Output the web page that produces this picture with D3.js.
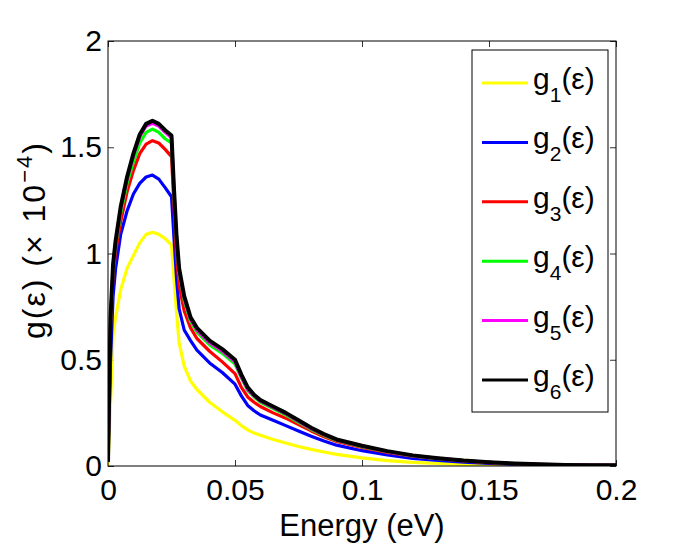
<!DOCTYPE html>
<html lang="en">
<head>
<meta charset="utf-8">
<script src="https://cdn.jsdelivr.net/npm/d3@7"></script>
<style>
  body { margin: 0; background: #fff; }
  text { font-family: "Liberation Sans", Arial, sans-serif; fill: #000; }
</style>
</head>
<body>
<div id="chart"></div>
<script>
// energy grid (eV) shared by all curves
const energy = [0, 0.001, 0.002, 0.003, 0.005, 0.0075, 0.01, 0.0125, 0.015, 0.0175, 0.02, 0.0225,
  0.025, 0.026, 0.027, 0.028, 0.03, 0.0325, 0.035, 0.04, 0.045, 0.05, 0.0525, 0.055, 0.0575, 0.06,
  0.065, 0.07, 0.075, 0.08, 0.085, 0.09, 0.1, 0.11, 0.12, 0.13, 0.14, 0.15, 0.16, 0.17, 0.18, 0.19, 0.2]

// g(eps) in units of 1e-4
const g1 = [0.0, 0.30, 0.62, 0.70, 0.83, 0.93, 0.99, 1.05, 1.09, 1.10, 1.09, 1.07,
  1.04, 0.88, 0.72, 0.58, 0.47, 0.40, 0.36, 0.30, 0.255, 0.215, 0.19, 0.17, 0.155, 0.145,
  0.125, 0.108, 0.092, 0.078, 0.066, 0.055, 0.038, 0.025, 0.017, 0.012, 0.008, 0.006, 0.004, 0.003, 0.002, 0.002, 0.001]
const g2 = [0.02, 0.50, 0.80, 0.93, 1.09, 1.20, 1.28, 1.33, 1.36, 1.369, 1.35, 1.31,
  1.267, 1.07, 0.88, 0.74, 0.64, 0.59, 0.545, 0.485, 0.44, 0.385, 0.33, 0.285, 0.26, 0.24,
  0.215, 0.19, 0.165, 0.14, 0.118, 0.098, 0.072, 0.052, 0.036, 0.026, 0.018, 0.012, 0.008, 0.006, 0.004, 0.003, 0.002]
const g3 = [0.02, 0.66, 0.90, 1.01, 1.15, 1.29, 1.39, 1.47, 1.515, 1.531, 1.52, 1.49,
  1.456, 1.22, 0.98, 0.85, 0.73, 0.65, 0.60, 0.54, 0.49, 0.435, 0.37, 0.325, 0.30, 0.28,
  0.25, 0.225, 0.195, 0.165, 0.138, 0.115, 0.087, 0.064, 0.046, 0.034, 0.024, 0.016, 0.011, 0.007, 0.005, 0.004, 0.003]
const g4 = [0.02, 0.68, 0.93, 1.04, 1.19, 1.33, 1.43, 1.52, 1.57, 1.585, 1.57, 1.54,
  1.52, 1.27, 1.05, 0.91, 0.78, 0.68, 0.63, 0.57, 0.53, 0.48, 0.415, 0.355, 0.325, 0.30,
  0.27, 0.24, 0.205, 0.172, 0.144, 0.12, 0.091, 0.067, 0.048, 0.035, 0.025, 0.017, 0.011, 0.007, 0.005, 0.004, 0.003]
const g5 = [0.02, 0.69, 0.94, 1.05, 1.21, 1.35, 1.46, 1.55, 1.60, 1.613, 1.60, 1.57,
  1.545, 1.29, 1.07, 0.92, 0.79, 0.69, 0.64, 0.58, 0.54, 0.49, 0.42, 0.36, 0.33, 0.305,
  0.275, 0.245, 0.21, 0.175, 0.147, 0.122, 0.093, 0.068, 0.049, 0.036, 0.025, 0.017, 0.011, 0.008, 0.005, 0.004, 0.003]
const g6 = [0.02, 0.70, 0.95, 1.06, 1.22, 1.36, 1.47, 1.56, 1.61, 1.625, 1.61, 1.58,
  1.555, 1.30, 1.08, 0.93, 0.80, 0.70, 0.65, 0.59, 0.55, 0.50, 0.43, 0.37, 0.335, 0.31,
  0.28, 0.25, 0.215, 0.18, 0.15, 0.125, 0.095, 0.07, 0.05, 0.037, 0.026, 0.018, 0.012, 0.008, 0.005, 0.004, 0.003]

const seriesNames = ['1', '2', '3', '4', '5', '6']
const seriesValues = [g1, g2, g3, g4, g5, g6]
const seriesColors = ['#ffff00', '#0000ff', '#ff0000', '#00ff00', '#ff00ff', '#000000']

const xTicks = [0, 0.05, 0.1, 0.15, 0.2]
const xTickLabels = ['0', '0.05', '0.1', '0.15', '0.2']
const yTicks = [0, 0.5, 1, 1.5, 2]
const yTickLabels = ['0', '0.5', '1', '1.5', '2']

const W = 681, H = 545
const plotL = 108, plotR = 616, plotT = 41, plotB = 466
const fontSize = 30

const svg = d3.select('#chart').append('svg')
  .attr('width', W).attr('height', H)

svg.append('rect').attr('width', W).attr('height', H).attr('fill', '#fff')

const x = d3.scaleLinear().domain([0, 0.2]).range([plotL, plotR])
const y = d3.scaleLinear().domain([0, 2]).range([plotB, plotT])

svg.append('clipPath').attr('id', 'plotclip')
  .append('rect')
  .attr('x', plotL).attr('y', plotT - 2)
  .attr('width', plotR - plotL).attr('height', plotB - plotT + 2)

// ticks (inward, on all four sides)
function styleAxis(g) {
  g.select('.domain').remove()
  g.selectAll('.tick line').attr('stroke', '#333')
  g.selectAll('.tick text')
    .style('font-family', '"Liberation Sans", Arial, sans-serif')
    .style('font-size', fontSize + 'px')
    .attr('fill', '#000')
}

svg.append('g')
  .attr('transform', 'translate(0,' + plotB + ')')
  .call(d3.axisBottom(x).tickValues(xTicks).tickSize(-6).tickPadding(13)
    .tickFormat(function(d, i) { return xTickLabels[i] }))
  .call(styleAxis)

svg.append('g')
  .attr('transform', 'translate(0,' + plotT + ')')
  .call(d3.axisTop(x).tickValues(xTicks).tickSize(-6).tickFormat(''))
  .call(styleAxis)

svg.append('g')
  .attr('transform', 'translate(' + plotL + ',0)')
  .call(d3.axisLeft(y).tickValues(yTicks).tickSize(-6).tickPadding(6)
    .tickFormat(function(d, i) { return yTickLabels[i] }))
  .call(styleAxis)

svg.append('g')
  .attr('transform', 'translate(' + plotR + ',0)')
  .call(d3.axisRight(y).tickValues(yTicks).tickSize(-6).tickFormat(''))
  .call(styleAxis)

// curves
const line = d3.line()
  .x(function(d) { return x(d[0]) })
  .y(function(d) { return y(d[1]) })

svg.append('g').attr('clip-path', 'url(#plotclip)')
  .selectAll('path')
  .data(seriesValues)
  .enter()
  .append('path')
  .attr('d', function(vals) { return line(energy.map(function(e, i) { return [e, vals[i]] })) })
  .attr('fill', 'none')
  .attr('stroke', function(d, i) { return seriesColors[i] })
  .attr('stroke-width', function(d, i) { return i === 5 ? 4 : 3.2 })
  .attr('stroke-linejoin', 'round')

// box
svg.append('rect')
  .attr('x', plotL).attr('y', plotT)
  .attr('width', plotR - plotL).attr('height', plotB - plotT)
  .attr('fill', 'none').attr('stroke', '#000').attr('stroke-width', 1)

// axis labels
svg.append('text')
  .attr('x', (plotL + plotR) / 2).attr('y', 536)
  .attr('text-anchor', 'middle')
  .style('font-size', '31px')
  .text('Energy (eV)')

const ylab = svg.append('text')
  .attr('transform', 'translate(45,240) rotate(-90)')
  .attr('text-anchor', 'middle')
  .style('font-size', '32px')
  .style('letter-spacing', '2px')
ylab.append('tspan').text('g(ε) (× 10')
ylab.append('tspan').attr('dy', -13).style('font-size', '22px').text('−4')
ylab.append('tspan').attr('dy', 13).text(')')

// legend
const legX = 472, legY = 50, legW = 136, legH = 362
const legend = svg.append('g')
legend.append('rect')
  .attr('x', legX).attr('y', legY).attr('width', legW).attr('height', legH)
  .attr('fill', '#fff').attr('stroke', '#000').attr('stroke-width', 1)

const rowY = d3.scaleLinear().domain([0, 5]).range([83, 380])

const rows = legend.selectAll('g.row')
  .data(seriesNames)
  .enter()
  .append('g')
  .attr('class', 'row')
  .attr('transform', function(d, i) { return 'translate(0,' + rowY(i) + ')' })

rows.append('line')
  .attr('x1', 482).attr('x2', 528)
  .attr('stroke', function(d, i) { return seriesColors[i] })
  .attr('stroke-width', 3)

const lt = rows.append('text')
  .attr('x', 533).attr('y', 6)
  .style('font-size', fontSize + 'px')
lt.append('tspan').text('g')
lt.append('tspan').attr('dy', 13).style('font-size', '21px').text(function(d) { return d })
lt.append('tspan').attr('dy', -13).text('(ε)')
</script>
</body>
</html>
